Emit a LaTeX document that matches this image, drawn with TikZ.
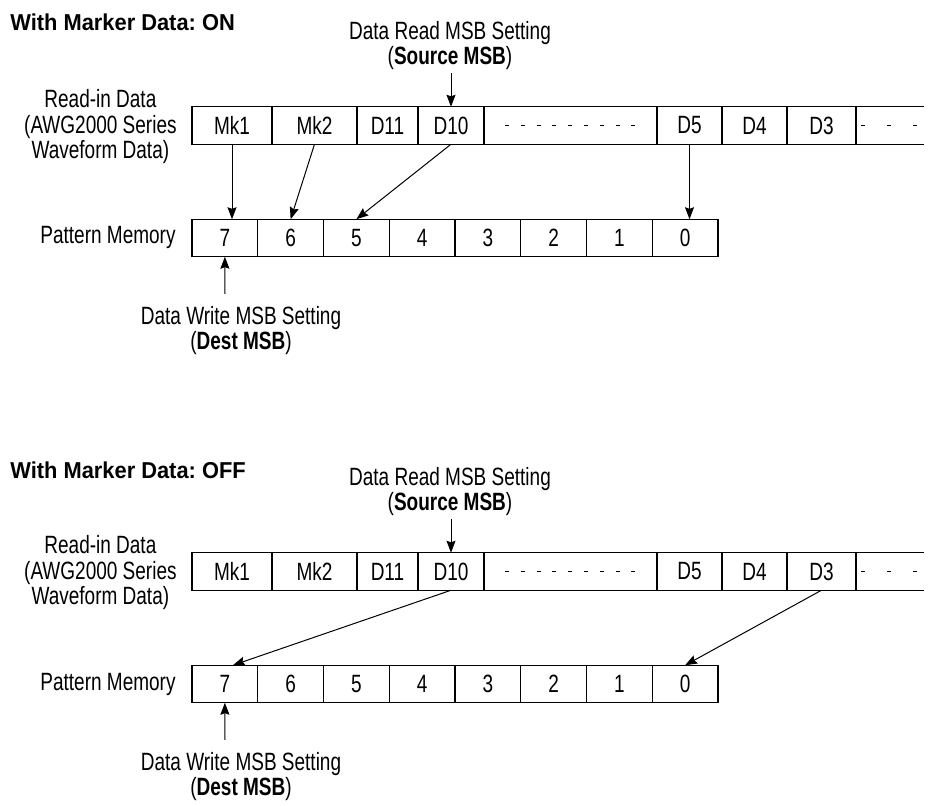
\documentclass[tikz,border=0pt]{standalone}
\usepackage{fontspec}
\setmainfont[FakeStretch=0.76]{Liberation Sans}
\newfontfamily\headfont[FakeStretch=0.95]{Liberation Sans}
\usepackage{tikz}
\usetikzlibrary{arrows.meta}
\newdimen\pxu \pxu=0.5pt
\frenchspacing

\begin{document}
\begin{tikzpicture}[x=0.5pt,y=-0.5pt,>={Stealth[length=6pt,width=4.5pt,inset=0.8pt]},
  txt/.style={font=\fontsize{12.5}{12.5}\selectfont,inner sep=0pt},
  cell/.style={txt,draw,line width=0.7pt,anchor=west,outer sep=0pt,minimum height=18.75pt,minimum width=#1\pxu},
  opencell/.style={txt,anchor=west,outer sep=0pt,minimum height=18.75pt,minimum width=#1\pxu},
  heading/.style={txt,font=\headfont\fontsize{11.5}{11.5}\selectfont\bfseries,anchor=west},
  note/.style={txt,align=center},
  link/.style={->,line width=0.5pt},
  filler/.style={line width=0.5pt,dash pattern=on 2pt off 5.9pt},
  tailfill/.style={line width=0.5pt,dash pattern=on 2pt off 11pt}]
  \useasboundingbox (0,0) rectangle (928,806);

  % marker data on
  \node[heading] (ton) at (10,22) {With Marker Data: ON};
  \node[note,anchor=south,font=\fontsize{12.5}{11.5}\selectfont] (readmsb) at (450,70) {Data Read MSB Setting\\(\textbf{Source MSB})};
  \node[note,anchor=east,font=\fontsize{12.5}{12.75}\selectfont] (readin) at (177,127) {Read-in Data\\(AWG2000 Series\\Waveform Data)};
  \node[txt,anchor=east] (patmem) at (176,238) {Pattern Memory};
  \node[note,anchor=north] (writemsb) at (241,306) {Data Write MSB Setting\\(\textbf{Dest MSB})};
  \coordinate (rtail) at (451,73);
  \coordinate (wtail) at (225,294);

  \node[cell=80] (mk1) at (192,125.5) {Mk1};
  \node[cell=85] (mk2) at (272,125.5) {Mk2};
  \node[cell=61] (d11) at (357,125.5) {D11};
  \node[cell=66] (d10) at (418,125.5) {D10};
  \node[cell=173] (gap) at (484,125.5) {};
  \node[cell=65] (d5) at (657,125.5) {D5};
  \node[cell=65] (d4) at (722,125.5) {D4};
  \node[cell=69] (d3) at (787,125.5) {D3};
  \node[opencell=68] (tail) at (856,125.5) {};
  \draw[line width=0.7pt] (tail.north west) -- (tail.north east) (tail.south west) -- (tail.south east);
  \draw[filler] (505,125.5) -- (640,125.5);
  \draw[tailfill] (861,125.5) -- (917,125.5);

  \node[cell=65.75] (p7) at (192,238) {7};
  \node[cell=65.75] (p6) at (257.75,238) {6};
  \node[cell=65.75] (p5) at (323.5,238) {5};
  \node[cell=65.75] (p4) at (389.25,238) {4};
  \node[cell=65.75] (p3) at (455,238) {3};
  \node[cell=65.75] (p2) at (520.75,238) {2};
  \node[cell=65.75] (p1) at (586.5,238) {1};
  \node[cell=65.75] (p0) at (652.25,238) {0};

  \draw[link] (rtail) -- (d10.north);
  \draw[link] (wtail) -- (p7.south);
  \draw[link] (mk1.south) -- (mk1.south |- p7.north);
  \draw[link] (mk2.south) -- (p6.north);
  \draw[link] (d10.south) -- (p5.north);
  \draw[link] (d5.south) -- (d5.south |- p0.north);

  % marker data off
  \node[heading] (toff) at (10,470) {With Marker Data: OFF};
  \node[note,anchor=south,font=\fontsize{12.5}{11.5}\selectfont] (breadmsb) at (450,516) {Data Read MSB Setting\\(\textbf{Source MSB})};
  \node[note,anchor=east,font=\fontsize{12.5}{12.75}\selectfont] (breadin) at (177,573) {Read-in Data\\(AWG2000 Series\\Waveform Data)};
  \node[txt,anchor=east] (bpatmem) at (176,684) {Pattern Memory};
  \node[note,anchor=north] (bwritemsb) at (241,752) {Data Write MSB Setting\\(\textbf{Dest MSB})};
  \coordinate (brtail) at (451,519);
  \coordinate (bwtail) at (225,740);

  \node[cell=80] (bmk1) at (192,571.5) {Mk1};
  \node[cell=85] (bmk2) at (272,571.5) {Mk2};
  \node[cell=61] (bd11) at (357,571.5) {D11};
  \node[cell=66] (bd10) at (418,571.5) {D10};
  \node[cell=173] (bgap) at (484,571.5) {};
  \node[cell=65] (bd5) at (657,571.5) {D5};
  \node[cell=65] (bd4) at (722,571.5) {D4};
  \node[cell=69] (bd3) at (787,571.5) {D3};
  \node[opencell=68] (btail) at (856,571.5) {};
  \draw[line width=0.7pt] (btail.north west) -- (btail.north east) (btail.south west) -- (btail.south east);
  \draw[filler] (505,571.5) -- (640,571.5);
  \draw[tailfill] (861,571.5) -- (917,571.5);

  \node[cell=65.75] (bp7) at (192,684) {7};
  \node[cell=65.75] (bp6) at (257.75,684) {6};
  \node[cell=65.75] (bp5) at (323.5,684) {5};
  \node[cell=65.75] (bp4) at (389.25,684) {4};
  \node[cell=65.75] (bp3) at (455,684) {3};
  \node[cell=65.75] (bp2) at (520.75,684) {2};
  \node[cell=65.75] (bp1) at (586.5,684) {1};
  \node[cell=65.75] (bp0) at (652.25,684) {0};

  \draw[link] (brtail) -- (bd10.north);
  \draw[link] (bwtail) -- (bp7.south);
  \draw[link] (bd10.south) -- ([xshift=4pt]bp7.north);
  \draw[link] (bd3.south) -- (bp0.north);
\end{tikzpicture}
\end{document}
